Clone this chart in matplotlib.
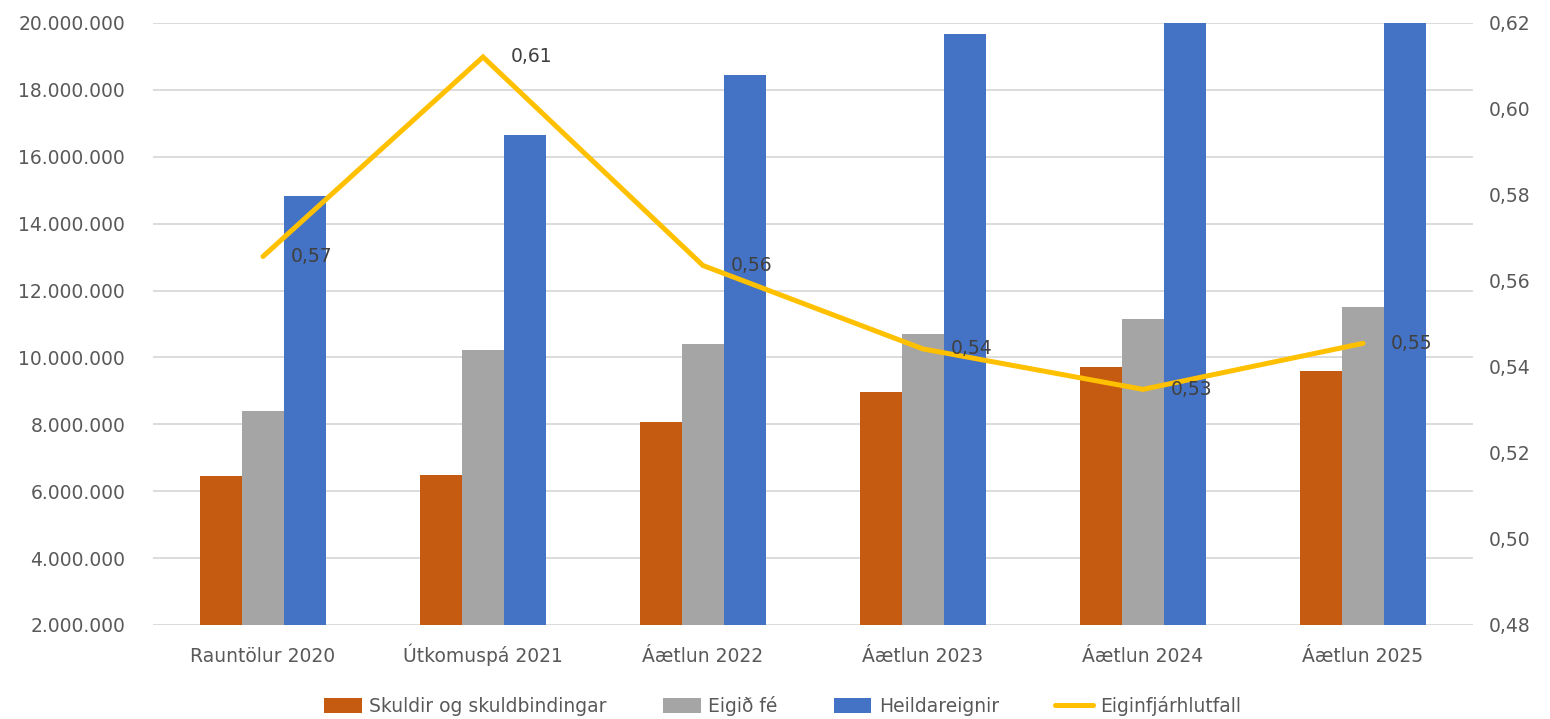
import matplotlib
matplotlib.use("Agg")
import matplotlib.pyplot as plt
import numpy as np
from matplotlib.ticker import FuncFormatter

categories = ["Rauntölur 2020", "Útkomuspá 2021", "Áætlun 2022", "Áætlun 2023", "Áætlun 2024", "Áætlun 2025"]
skuldir = [6460000, 6500000, 8060000, 8970000, 9700000, 9580000]
eigid_fe = [8410000, 10210000, 10410000, 10690000, 11160000, 11500000]
heildareignir = [14830000, 16660000, 18460000, 19680000, 20860000, 21080000]
hlutfall = [0.5657, 0.6121, 0.5636, 0.5442, 0.5348, 0.5455]
series_names = ["Skuldir og skuldbindingar", "Eigið fé", "Heildareignir", "Eiginfjárhlutfall"]

plt.rcParams['font.family'] = ['DejaVu Sans']

fig = plt.figure(figsize=(15.5, 7.19), dpi=100)
ax = fig.add_axes([153/1550, 1-625/719, (1473-153)/1550, (625-23)/719])
ax2 = ax.twinx()

x = np.arange(len(categories))
w = 0.192
c_or, c_gr, c_bl, c_ln = "#C55A11", "#A5A5A5", "#4472C4", "#FFC000"
b1 = ax.bar(x - w, skuldir, w, color=c_or, zorder=2, label=series_names[0])
b2 = ax.bar(x, eigid_fe, w, color=c_gr, zorder=2, label=series_names[1])
b3 = ax.bar(x + w, heildareignir, w, color=c_bl, zorder=2, label=series_names[2])

ax.set_ylim(2000000, 20000000)
ax.set_yticks(np.arange(2000000, 20000001, 2000000))
ax.yaxis.set_major_formatter(FuncFormatter(lambda v, p: f"{int(v):,}".replace(",", ".")))
ax.set_xlim(-0.5, len(categories) - 0.5)
ax.set_xticks(x)
ax.set_xticklabels(categories)
ax.grid(axis='y', color="#D9D9D9", linewidth=1.3, zorder=0)
ax.set_axisbelow(True)

line, = ax2.plot(x, hlutfall, color=c_ln, linewidth=3.6, solid_capstyle='round',
                 solid_joinstyle='miter', zorder=3, label=series_names[3])
ax2.set_ylim(0.48, 0.62)
ax2.set_yticks(np.arange(0.48, 0.6201, 0.02))
ax2.yaxis.set_major_formatter(FuncFormatter(lambda v, p: f"{v:.2f}".replace(".", ",")))
for xi, v in zip(x, hlutfall):
    ax2.annotate(f"{v:.2f}".replace(".", ","), (xi, v), xytext=(20, 0), textcoords='offset points',
                 ha='left', va='center', fontsize=13.5, color="#404040", zorder=5)

for a in (ax, ax2):
    for s in a.spines.values():
        s.set_visible(False)
    a.tick_params(length=0, labelsize=13.5, labelcolor="#595959")
ax.tick_params(axis='y', pad=20)
ax.tick_params(axis='x', pad=27)
for lbl in ax.get_xticklabels():
    lbl.set_verticalalignment('baseline')
ax2.tick_params(axis='y', pad=11)

fig.legend(handles=[b1, b2, b3, line], labels=series_names, loc='center',
           bbox_to_anchor=(0.505, 0.018), ncol=4, frameon=False, fontsize=13.5,
           labelcolor="#595959", handlelength=2.0, handleheight=0.8, handletextpad=0.4,
           columnspacing=3.0)

fig.savefig("out.png", dpi=100, facecolor="white")
